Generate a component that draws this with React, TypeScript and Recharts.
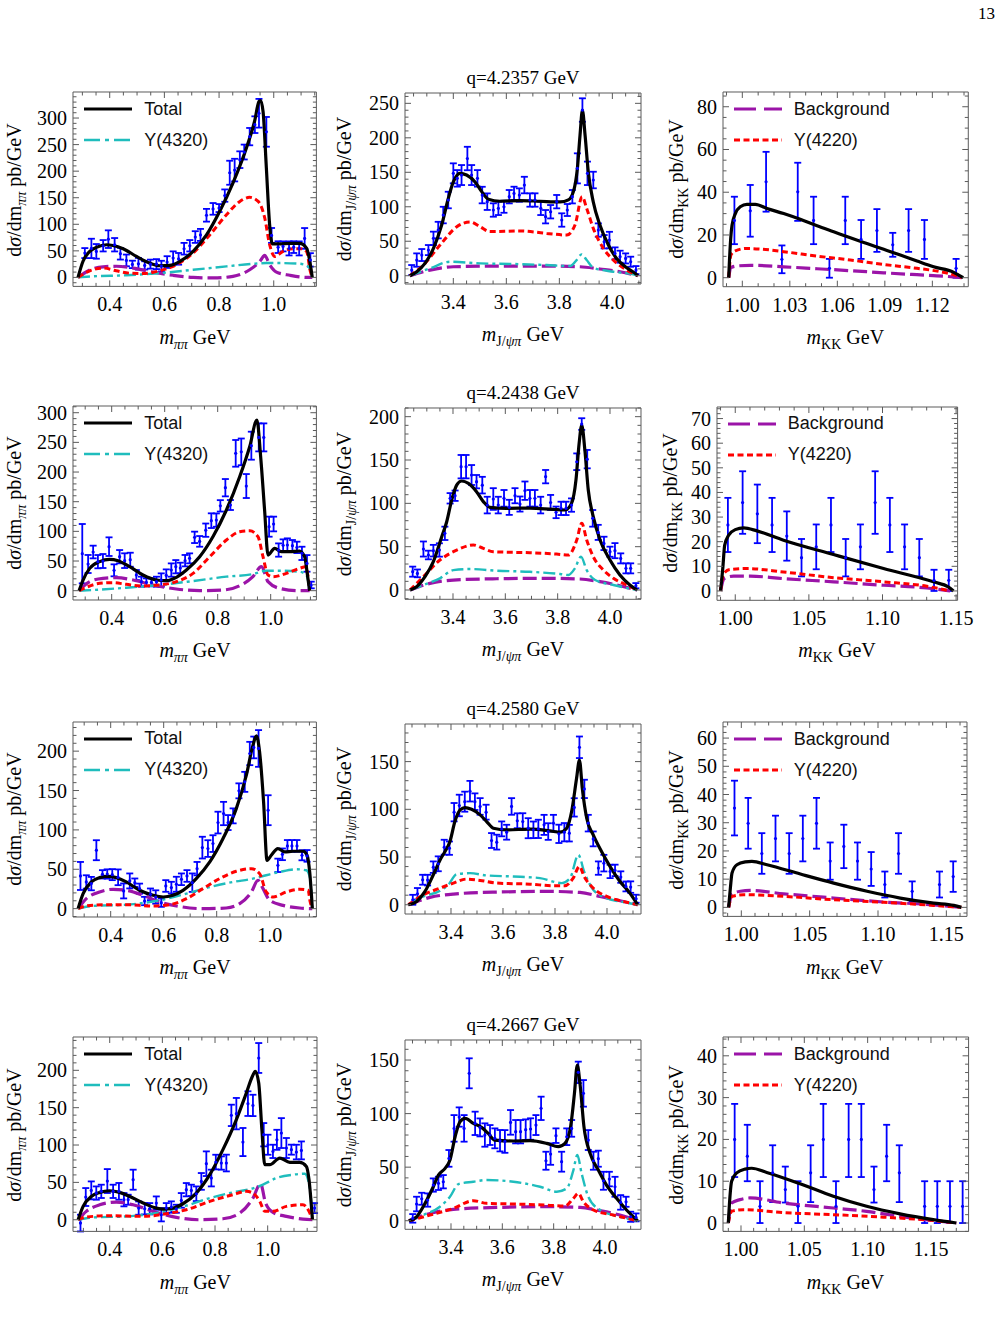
import React from 'react';
import { ComposedChart, Line, Scatter, ErrorBar, XAxis, YAxis } from 'recharts';

type XY = [number, number];
type Meas = [number, number, number] | [number, number, number, number];

// collision energies of the four rows (GeV)
const energies = ['4.2357', '4.2438', '4.2580', '4.2667'];

// tick labels
const pipiTicks = [0.4, 0.6, 0.8, 1.0];
const jpsipiTicks = [3.4, 3.6, 3.8, 4.0];
const kkTicksRow1 = [1.0, 1.03, 1.06, 1.09, 1.12];
const kkTicks = [1.0, 1.05, 1.1, 1.15];
const yTicks300 = [0, 50, 100, 150, 200, 250, 300];
const yTicks250 = [0, 50, 100, 150, 200, 250];
const yTicks200 = [0, 50, 100, 150, 200];
const yTicks150 = [0, 50, 100, 150];
const kkY80 = [0, 20, 40, 60, 80];
const kkY70 = [0, 10, 20, 30, 40, 50, 60, 70];
const kkY60 = [0, 10, 20, 30, 40, 50, 60];
const kkY40 = [0, 10, 20, 30, 40];

// ---------- row 1 : q = 4.2357 GeV ----------
const pipiTotal1: XY[] = [[0.284,0],[0.302,30],[0.327,49],[0.351,56.5],[0.388,61.5],[0.412,60],[0.449,54],[0.498,39.5],[0.546,27],[0.583,22],[0.620,22.6],[0.656,30],[0.705,49],[0.754,80],[0.802,124],[0.851,178],[0.900,243.6],[0.930,294],[0.946,331],[0.952,333],[0.961,312],[0.973,206],[0.985,99],[0.995,63],[1.022,63],[1.059,64],[1.095,64],[1.120,55],[1.134,24],[1.141,0]];
const pipiY4220_1: XY[] = [[0.284,0],[0.327,12.5],[0.376,17.6],[0.424,12.5],[0.473,8],[0.522,7.5],[0.583,12.5],[0.644,24],[0.705,46],[0.766,80],[0.827,118],[0.876,143],[0.912,150.7],[0.943,143],[0.967,112],[0.985,61.5],[1.004,39.5],[1.034,49],[1.071,54],[1.101,54],[1.120,49],[1.134,11],[1.141,0]];
const pipiY4320_1: XY[] = [[0.284,0],[0.339,2],[0.461,4],[0.583,8],[0.705,14.4],[0.827,20.7],[0.924,25.7],[0.973,27],[1.022,27],[1.095,25.7],[1.126,20.7],[1.141,0]];
const pipiBkg1: XY[] = [[0.284,0],[0.327,14],[0.376,20],[0.424,21],[0.485,17.6],[0.559,10],[0.632,4],[0.705,0],[0.778,-1],[0.851,2],[0.912,14.4],[0.949,30],[0.967,41.4],[0.985,24],[1.010,10],[1.059,4],[1.120,0],[1.141,0]];
const pipiData1: Meas[] = [[0.309,45.8,9.4],[0.333,54.6,18.2],[0.351,49,13.8],[0.376,59.6,10.7],[0.395,72,16.6],[0.418,61.5,12.6],[0.439,44.6,11],[0.461,32,11],[0.483,24.5,7],[0.505,25.7,11],[0.528,22.6,7.8],[0.549,25,8.5],[0.571,25,9.4],[0.589,21.3,10],[0.610,28.9,11],[0.632,36.4,12.6],[0.652,35,11],[0.672,54,11],[0.693,59.6,10.7],[0.713,76,11],[0.732,80,11.3],[0.754,117,12],[0.778,129,11],[0.800,130.5,7.5],[0.821,154,11.6],[0.839,197,22.6],[0.857,202,21.3],[0.876,221.6,15.7],[0.892,236,14],[0.912,265,16.3],[0.931,287.5,15.7],[0.946,309,27],[0.973,274,28],[0.992,79,14],[1.016,57,11],[1.034,58.4,9.4],[1.056,54.6,13.2],[1.073,57,11],[1.093,54.6,13.2],[1.113,73.4,19.5],[1.134,33,12.6]];

const jpsipiTotal1: XY[] = [[3.236,0],[3.262,5.8],[3.293,17.9],[3.325,39.7],[3.356,73.5],[3.381,112],[3.400,136],[3.425,148.5],[3.450,146],[3.482,136],[3.507,122],[3.532,111],[3.576,108],[3.652,109],[3.727,108],[3.803,107],[3.834,110],[3.853,122],[3.868,155.7],[3.878,204],[3.887,240],[3.897,204],[3.909,151],[3.928,107],[3.953,73.5],[3.985,44.5],[4.016,25],[4.054,11.6],[4.086,3.4],[4.096,0]];
const jpsipiY4220_1: XY[] = [[3.236,0],[3.287,15.5],[3.350,44.5],[3.413,71],[3.463,78],[3.501,71],[3.538,64],[3.652,65],[3.752,61.4],[3.828,59],[3.859,73.5],[3.886,114.6],[3.903,97.7],[3.928,68.7],[3.966,39.7],[4.004,22.7],[4.054,8.2],[4.096,0]];
const jpsipiY4320_1: XY[] = [[3.236,0],[3.312,10.6],[3.388,20.3],[3.501,17.9],[3.626,17],[3.752,15.5],[3.840,14],[3.865,22.7],[3.884,31],[3.903,22.7],[3.928,11.6],[4.004,5.8],[4.079,2],[4.096,0]];
const jpsipiBkg1: XY[] = [[3.236,0],[3.312,8.2],[3.400,13],[3.564,14],[3.752,14],[3.878,13],[3.953,9.7],[4.029,5.8],[4.096,0]];
const jpsipiData1: Meas[] = [[3.243,8.2,7.3],[3.262,22.7,9.7],[3.281,30,8.7],[3.306,37.2,7.3],[3.325,54.2,9.7],[3.343,66.2,12],[3.362,88,12],[3.381,109.8,12],[3.400,148.5,14.5],[3.415,141.2,12],[3.431,146,14.5],[3.453,170,17],[3.469,146,14.5],[3.491,141.2,12],[3.509,117,12],[3.528,107.4,12],[3.551,95.3,9.7],[3.570,97.7,9.7],[3.591,100,8.7],[3.611,114.6,9.7],[3.629,119.4,9.7],[3.649,117,9.7],[3.668,131.5,12],[3.689,109.8,9.7],[3.708,109.8,9.7],[3.730,97.7,9.7],[3.748,85.6,9.7],[3.767,92.8,9.7],[3.790,107.4,9.7],[3.809,80.8,9.7],[3.830,95.3,8.7],[3.849,114.6,9.7],[3.868,155.7,21.8],[3.887,240.3,17],[3.906,148.5,17],[3.928,138.8,12],[3.947,66.2,9.7],[3.969,49.3,9.7],[3.989,51.7,12],[4.010,32.4,8.7],[4.029,27.6,8.7],[4.050,25.1,7.3],[4.069,20.3,7.3],[4.089,8.2,5.8]];

const kkTotal1: XY[] = [[0.9914,0],[0.9924,15.3],[0.9935,24.6],[0.9956,30],[0.9987,33.2],[1.0029,34.3],[1.0082,34.3],[1.0156,32.4],[1.0261,30],[1.0366,27.3],[1.0472,24.3],[1.0577,21.5],[1.0682,18.7],[1.0787,16],[1.0893,13.3],[1.0998,10.6],[1.1103,7.8],[1.1208,5.1],[1.1335,2.5],[1.1366,1.2],[1.1395,0]];
const kkY4220_1: XY[] = [[0.9914,0],[0.9928,10.6],[0.9956,12.6],[1.0029,13.7],[1.0114,13.4],[1.0261,12.2],[1.0472,10.1],[1.0682,8.3],[1.0893,6.2],[1.1103,4.4],[1.1251,2.8],[1.1356,0.9],[1.1387,0]];
const kkBkg1: XY[] = [[0.9914,0],[0.9928,4.7],[0.9966,5.5],[1.0051,5.8],[1.0261,5.1],[1.0472,4.2],[1.0682,3.3],[1.0893,2.3],[1.1103,1.4],[1.1293,0.6],[1.1387,0]];
const kkData1: Meas[] = [[0.995,26.8,11.1],[1.005,31.3,12.1],[1.015,44.9,14],[1.025,8.6,6.5],[1.035,40.2,13.6],[1.045,26.8,11.1],[1.055,4.4,4.4],[1.065,26.8,11.1],[1.075,17.9,9.1],[1.085,22.1,10],[1.095,15.4,5.6],[1.105,22.1,10],[1.115,17.9,9.1],[1.135,4.4,4.4]];

// ---------- row 2 : q = 4.2438 GeV ----------
const pipiTotal2: XY[] = [[0.277,0],[0.292,18],[0.317,37.6],[0.355,49],[0.392,52.8],[0.424,50.6],[0.468,40.4],[0.518,26.4],[0.569,18],[0.606,16.9],[0.644,22.5],[0.682,34.8],[0.732,57.3],[0.782,91],[0.833,136],[0.883,192],[0.921,243],[0.948,287.6],[0.962,227],[0.977,136],[0.990,60],[1.015,71.3],[1.040,65.7],[1.072,65.7],[1.109,66.9],[1.128,57.3],[1.138,29],[1.147,0]];
const pipiY4220_2: XY[] = [[0.277,0],[0.304,5.6],[0.355,12.4],[0.405,13.5],[0.455,10.7],[0.518,7.9],[0.581,9.6],[0.644,15.2],[0.707,29.2],[0.770,57.3],[0.833,85.4],[0.883,99.4],[0.921,101],[0.952,91],[0.971,57.3],[0.990,26.4],[1.009,23.6],[1.059,29.2],[1.109,37.6],[1.132,40.4],[1.141,23.6],[1.147,0]];
const pipiY4320_2: XY[] = [[0.277,0],[0.330,1.1],[0.455,5],[0.581,9.6],[0.707,16.3],[0.833,23.6],[0.933,28],[0.984,33.7],[1.034,33.7],[1.109,32],[1.135,26.4],[1.147,0]];
const pipiBkg2: XY[] = [[0.277,0],[0.317,15.2],[0.367,20.8],[0.418,21.9],[0.481,18],[0.556,9.6],[0.644,2.8],[0.732,0],[0.820,1.1],[0.883,8.4],[0.933,23.6],[0.965,40.4],[0.990,15.2],[1.034,3.9],[1.109,0],[1.147,0]];
const pipiData2: Meas[] = [[0.289,62.4,50],[0.311,45,15.2],[0.330,65.2,10.7],[0.348,48.9,11.2],[0.367,50,11.8],[0.390,74.2,15.7],[0.409,34.3,10.1],[0.430,57.3,11.2],[0.449,50.6,12.4],[0.470,52.2,11.8],[0.493,26.4,8.4],[0.512,15.2,8.4],[0.531,14,6.7],[0.550,14,6.7],[0.569,15.2,8.4],[0.587,18,11.2],[0.606,25.8,10.1],[0.625,34.8,11.2],[0.642,40.4,11.2],[0.659,38.2,9],[0.677,50.6,9.6],[0.694,54.5,8.4],[0.713,89.9,9.6],[0.732,83.1,9],[0.755,102,11.2],[0.776,118,12.4],[0.795,119,11.2],[0.810,143,9.6],[0.829,173.6,14.6],[0.848,144.4,8.4],[0.868,231.5,22.5],[0.889,234,22.5],[0.908,176.4,20.2],[0.927,244.4,23.6],[0.955,258.4,23.6],[0.974,258.4,23.6],[0.994,107.9,16.9],[1.011,112.4,12.4],[1.030,68.5,11.2],[1.047,76.4,10.1],[1.063,77,11.2],[1.082,75.8,9.6],[1.099,73,9.6],[1.118,62.9,11.2],[1.137,46,14],[1.153,9.6,5.6]];

const jpsipiTotal2: XY[] = [[3.236,0],[3.261,3.8],[3.293,15.4],[3.325,32.7],[3.357,61.5],[3.376,78.8],[3.395,103.8],[3.414,121],[3.433,125.8],[3.459,123],[3.490,113.5],[3.516,102],[3.541,95.4],[3.605,94.2],[3.694,94.6],[3.783,93],[3.828,92.3],[3.853,100],[3.870,127],[3.882,169],[3.892,190.4],[3.904,161.5],[3.917,115.4],[3.936,84.6],[3.962,57.7],[4.000,34.6],[4.038,17.3],[4.076,5.8],[4.104,0]];
const jpsipiY4220_2: XY[] = [[3.236,0],[3.287,15.4],[3.350,34.6],[3.414,46],[3.478,52],[3.516,48],[3.554,44.2],[3.694,43],[3.796,41.5],[3.841,40.4],[3.873,57.7],[3.892,77],[3.911,57.7],[3.936,38.5],[3.975,23],[4.013,13.5],[4.064,5.8],[4.104,0]];
const jpsipiY4320_2: XY[] = [[3.236,0],[3.287,5.8],[3.350,13.5],[3.401,23],[3.465,24.2],[3.567,22.3],[3.694,21],[3.809,18.5],[3.841,17.3],[3.866,25],[3.889,38.5],[3.911,23],[3.943,11.5],[4.013,5.8],[4.089,0.8],[4.104,0]];
const jpsipiBkg2: XY[] = [[3.236,0],[3.312,7.7],[3.401,11.5],[3.567,13],[3.758,13.5],[3.885,12.7],[3.962,9.6],[4.038,5],[4.104,0]];
const jpsipiData2: Meas[] = [[3.246,21.2,5.8],[3.264,19.2,4.5],[3.287,47.3,8.7],[3.306,40.4,5],[3.325,45.4,6.7],[3.348,46.2,7.7],[3.369,65.4,7.7],[3.389,105.8,6],[3.408,108.8,6],[3.431,142.3,13.5],[3.450,142.3,13.5],[3.471,132.7,11.5],[3.490,125,7.7],[3.512,121,9.6],[3.531,98,9.6],[3.554,105,12.5],[3.573,98,9.6],[3.595,105.8,9.6],[3.615,95.4,8.7],[3.637,108.8,8.7],[3.656,99.2,8.7],[3.675,114.6,10.6],[3.694,105.8,9.6],[3.713,105.8,9.6],[3.735,98,9.6],[3.754,130.8,7.7],[3.773,101,8.7],[3.794,89.6,6.7],[3.813,94.2,7.7],[3.832,94.2,7.7],[3.853,98,7.7],[3.873,148,9.6],[3.892,191.5,6.7],[3.913,151,10.6],[3.934,82.7,9.6],[3.955,66.5,8.7],[3.977,53.8,7.7],[4.000,44.2,5.8],[4.019,45.4,8.7],[4.041,36.5,5.8],[4.061,25,5.8],[4.079,25,5.8],[4.099,5,3]];

const kkTotal2: XY[] = [[0.990,0],[0.9916,9.7],[0.9928,18.5],[0.9955,22.6],[1.000,24.9],[1.0057,25.6],[1.0147,24.4],[1.0328,20.6],[1.0667,14.8],[1.1007,9.1],[1.1346,3.7],[1.1448,1.6],[1.1482,0]];
const kkY4220_2: XY[] = [[0.990,0],[0.9921,7],[0.9966,8.7],[1.0079,9.1],[1.0328,7.7],[1.0667,5.4],[1.1007,3.7],[1.1301,1.9],[1.1459,0]];
const kkBkg2: XY[] = [[0.990,0],[0.9925,5],[0.9989,6],[1.0102,6],[1.0328,5],[1.0667,3.7],[1.1007,2.3],[1.1301,1.2],[1.1459,0]];
const kkData2: Meas[] = [[0.995,26.8,11],[1.005,35.9,12.7],[1.015,31.3,11.9],[1.025,26.8,11],[1.035,22.3,10],[1.045,13.5,7.6],[1.055,17.9,9.1],[1.065,26.8,11],[1.075,13.5,7.6],[1.085,17.9,9.1],[1.095,35.9,12.7],[1.105,26.8,11],[1.115,17.9,9.1],[1.125,13.5,7.6],[1.135,4.3,4.3],[1.145,4.3,4.3]];

// ---------- row 3 : q = 4.2580 GeV ----------
const pipiTotal3: XY[] = [[0.277,0],[0.296,19],[0.327,33.9],[0.358,39.4],[0.390,41.1],[0.421,39.4],[0.459,33.9],[0.509,23.3],[0.560,17],[0.598,14.8],[0.635,17],[0.673,23.3],[0.723,38.1],[0.774,59.3],[0.824,89],[0.874,127],[0.912,169.5],[0.937,207.6],[0.950,219.5],[0.962,199],[0.977,135.6],[0.990,61.4],[1.006,67.8],[1.031,76.3],[1.057,72],[1.088,72.9],[1.126,72.9],[1.141,67.8],[1.151,46.6],[1.161,0]];
const pipiY4220_3: XY[] = [[0.277,0],[0.308,3.4],[0.371,5],[0.459,5],[0.560,3.4],[0.623,5],[0.686,12.7],[0.748,25.4],[0.811,38.1],[0.874,47.5],[0.931,50.8],[0.962,44.5],[0.987,21.2],[1.013,14.8],[1.063,21.2],[1.113,24.6],[1.145,23.3],[1.153,8.5],[1.161,0]];
const pipiY4320_3: XY[] = [[0.277,0],[0.333,3.4],[0.459,5],[0.585,10.6],[0.686,19],[0.774,27.5],[0.862,33.9],[0.937,38.1],[0.987,42.4],[1.038,46.6],[1.101,50],[1.138,48.7],[1.153,38],[1.161,0]];
const pipiBkg3: XY[] = [[0.277,0],[0.308,12.7],[0.358,21.2],[0.409,24.6],[0.459,23.3],[0.522,17],[0.585,8.5],[0.648,3.4],[0.748,0],[0.836,0.8],[0.887,6.4],[0.931,21.2],[0.956,36],[0.975,25.4],[1.000,10.6],[1.050,4.2],[1.113,0.8],[1.161,0]];
const pipiData3: Meas[] = [[0.286,41.5,17.8],[0.308,33.9,8.5],[0.327,31.8,8.5],[0.346,74.2,12.7],[0.369,43.6,5.3],[0.387,44,5.9],[0.406,43.2,7],[0.428,39.8,10],[0.449,22.5,9.5],[0.472,35.2,9.5],[0.491,33,5.3],[0.509,25.4,6.4],[0.528,9.7,5.3],[0.550,18.2,7.4],[0.570,14.8,8.5],[0.591,7.6,5.3],[0.608,28.8,7.4],[0.629,26.7,7.4],[0.648,31,9.5],[0.667,37.3,7.4],[0.688,41.5,7.4],[0.708,33,11.7],[0.726,50.8,8.5],[0.746,77.5,13.8],[0.767,76.3,10.6],[0.786,82.6,10.6],[0.805,109.3,13.8],[0.826,120.8,14.8],[0.843,109.3,9.5],[0.862,117.8,9.5],[0.884,149.6,9.5],[0.906,161,12.7],[0.925,197,14.8],[0.940,204.7,13.8],[0.958,203.4,23.3],[0.994,125,19],[1.031,55,8.5],[1.048,69,7.4],[1.067,79.7,7.4],[1.084,79.7,7.4],[1.103,79.7,7.4],[1.122,67.8,6.4],[1.141,67,7.4]];

const jpsipiTotal3: XY[] = [[3.236,0],[3.268,3.5],[3.300,14],[3.332,31.4],[3.358,47],[3.377,55.8],[3.396,66.3],[3.415,87.2],[3.435,99.4],[3.454,101.8],[3.479,100],[3.512,94.2],[3.537,87.2],[3.563,80.2],[3.614,78.5],[3.704,79.2],[3.781,77.4],[3.819,76],[3.845,80.2],[3.864,97.7],[3.883,132.5],[3.894,151.7],[3.905,122],[3.922,90.7],[3.947,73.2],[3.979,55.8],[4.012,40],[4.050,24.4],[4.088,12.2],[4.118,0]];
const jpsipiY4220_3: XY[] = [[3.236,0],[3.294,10.5],[3.358,17.4],[3.409,22.7],[3.460,26.9],[3.512,25.5],[3.576,22.7],[3.704,21.6],[3.794,19.9],[3.838,19.9],[3.870,27.9],[3.894,40.1],[3.912,29.6],[3.947,17.4],[3.999,8.7],[4.063,3.5],[4.118,0]];
const jpsipiY4320_3: XY[] = [[3.236,0],[3.294,8.7],[3.358,14.6],[3.390,21],[3.422,32],[3.473,33.1],[3.537,30.7],[3.640,29.6],[3.742,27.9],[3.826,22.7],[3.858,27.9],[3.890,52.3],[3.912,34.9],[3.947,15.7],[3.999,7],[4.063,2.8],[4.118,0]];
const jpsipiBkg3: XY[] = [[3.236,0],[3.319,7.7],[3.409,11.2],[3.576,13.3],[3.768,14],[3.896,12.9],[3.973,8.7],[4.050,4.2],[4.118,0]];
const jpsipiData3: Meas[] = [[3.253,5.2,5.2],[3.271,11.5,6],[3.291,26.2,5.2],[3.310,25.8,5.6],[3.332,39.4,6],[3.351,42.9,7.8],[3.374,60.3,7.8],[3.394,59.3,7],[3.412,97,9.6],[3.432,104,11.3],[3.453,108,10.5],[3.473,119,10.8],[3.492,108,8.7],[3.512,103,8.7],[3.535,97,7.8],[3.556,67.3,7.8],[3.576,65.6,7.8],[3.595,79.5,7.8],[3.614,76,7.8],[3.633,103,8.7],[3.655,88,7.8],[3.676,87.2,8.7],[3.697,80.2,10.5],[3.717,78.5,8.7],[3.736,79.5,9.6],[3.758,83.7,10.5],[3.774,76.7,8.7],[3.794,85.5,8.7],[3.815,74.3,9.6],[3.836,76,9.6],[3.855,75,8.7],[3.874,102,9.6],[3.894,165,11.3],[3.913,121.4,9.6],[3.928,85.5,8.7],[3.947,69,7.8],[3.967,38.4,7],[3.988,43.6,8.7],[4.012,34.9,7],[4.031,36,6],[4.053,29,6],[4.073,19.2,5.2],[4.091,18.5,6],[4.112,6.3,4.2]];

const kkTotal3: XY[] = [[0.9907,0],[0.992,6.9],[0.9932,12.2],[0.9968,15.1],[1.0029,16.1],[1.0078,16.3],[1.0188,15.1],[1.0432,11.8],[1.0676,8.6],[1.092,5.7],[1.1163,3.3],[1.1407,1.5],[1.1554,0.7],[1.161,0]];
const kkY4220_3: XY[] = [[0.9907,0],[0.9932,3.9],[1.0017,4.5],[1.031,3.9],[1.0676,2.7],[1.1041,1.8],[1.1407,0.7],[1.161,0]];
const kkBkg3: XY[] = [[0.9907,0],[0.9932,4.7],[0.9993,5.7],[1.0066,6],[1.031,4.8],[1.0676,3.3],[1.1041,1.9],[1.1407,0.9],[1.161,0]];
const kkData3: Meas[] = [[0.995,35.2,9.7],[1.005,29.8,9],[1.015,19.1,7.2],[1.025,24.4,8.1],[1.035,19.1,7.2],[1.045,24.4,8.1],[1.055,29.8,9],[1.065,16.4,6.6],[1.075,21.6,7.7],[1.085,16.4,6.6],[1.095,13.6,6],[1.105,8.1,4.6],[1.115,19.1,7.2],[1.125,5.7,3.5],[1.145,8.1,4.6],[1.155,10.9,5.4]];

// ---------- row 4 : q = 4.2667 GeV ----------
const pipiTotal4: XY[] = [[0.280,0],[0.299,17.9],[0.330,31.2],[0.362,36.6],[0.400,38.8],[0.438,36.6],[0.476,31.2],[0.527,22.3],[0.577,15.6],[0.603,14.3],[0.641,15.6],[0.678,21.4],[0.729,35.7],[0.780,60.3],[0.830,93.8],[0.881,134],[0.919,169.6],[0.942,192],[0.953,198.7],[0.966,183],[0.978,120.5],[0.989,73.7],[1.008,73.7],[1.046,82.6],[1.084,76.8],[1.122,76.8],[1.147,71.4],[1.157,53.6],[1.170,0]];
const pipiY4220_4: XY[] = [[0.280,0],[0.311,3.6],[0.400,5.4],[0.527,4.5],[0.615,8],[0.691,13.4],[0.780,24.6],[0.868,33.5],[0.919,38],[0.944,35.7],[0.970,24.6],[0.989,11.2],[1.020,11.2],[1.071,17.9],[1.134,20],[1.157,11.2],[1.170,0]];
const pipiY4320_4: XY[] = [[0.280,0],[0.337,3.1],[0.463,4.5],[0.590,9.8],[0.691,18.8],[0.780,29],[0.868,36.6],[0.944,42],[0.982,47],[1.033,55.8],[1.096,60.3],[1.141,61.6],[1.159,44.6],[1.170,0]];
const pipiBkg4: XY[] = [[0.280,0],[0.311,11.2],[0.362,20],[0.425,23.7],[0.489,20],[0.565,11.2],[0.653,3.1],[0.742,0],[0.830,1.3],[0.894,8.9],[0.944,29],[0.973,48.2],[0.992,22.3],[1.020,9.8],[1.071,4.5],[1.134,0.9],[1.170,0]];
const pipiData4: Meas[] = [[0.289,-4.5,11.2],[0.309,30.4,12],[0.330,39.3,12],[0.349,35.7,8.9],[0.368,38,8.9],[0.391,51.8,16],[0.413,38,8.9],[0.435,38,11.2],[0.454,26.8,8.9],[0.470,26.8,6.7],[0.489,53.6,13.4],[0.510,15.6,8.9],[0.533,14.7,7.6],[0.552,14.7,7.6],[0.577,22.3,8.9],[0.596,6.7,8.9],[0.615,15.6,6.7],[0.634,17,7.6],[0.653,14.7,5.4],[0.672,25.9,9.8],[0.691,40.2,8.9],[0.710,39.3,7.6],[0.729,34.8,9.8],[0.748,51.3,11.2],[0.767,75,16.5],[0.786,55.8,11.2],[0.803,77.2,9.8],[0.824,75.9,8.9],[0.843,75.9,11.2],[0.862,139.7,14.3],[0.881,142,21],[0.906,104,18.8],[0.925,155.4,16.5],[0.944,153,14.3],[0.966,216.5,20],[0.985,113.8,15.6],[1.001,100.4,13.4],[1.020,91.5,8.9],[1.035,107,13.4],[1.052,116,20],[1.071,96,13.4],[1.090,93.8,6.7],[1.109,90.6,9.8],[1.128,92.8,12],[1.178,15.6,6.7]];

const jpsipiTotal4: XY[] = [[3.236,0],[3.266,3.7],[3.299,16.2],[3.331,31.7],[3.351,42.6],[3.377,48.9],[3.396,56.6],[3.416,78.4],[3.435,92.4],[3.455,95.5],[3.487,90.9],[3.519,87.1],[3.545,81.5],[3.571,75.3],[3.643,74.4],[3.708,74.7],[3.773,72.2],[3.818,69.1],[3.844,72.2],[3.866,87.8],[3.881,118.9],[3.892,145.3],[3.903,127.1],[3.918,87.8],[3.942,62.9],[3.974,47.3],[4.006,33.3],[4.045,20.9],[4.084,10],[4.127,0]];
const jpsipiY4220_4: XY[] = [[3.236,0],[3.318,5.3],[3.409,11.5],[3.487,18.7],[3.539,16.2],[3.643,15.6],[3.773,14.6],[3.844,13.7],[3.877,20.9],[3.896,25.5],[3.916,17.7],[3.955,10],[4.032,5.3],[4.127,0]];
const jpsipiY4320_4: XY[] = [[3.236,0],[3.292,5.3],[3.357,13.1],[3.396,22.4],[3.429,34.2],[3.487,36.4],[3.539,38],[3.643,36.4],[3.747,31.7],[3.812,27.1],[3.851,30.2],[3.877,47.3],[3.892,61.3],[3.909,44.2],[3.935,22.4],[3.981,10],[4.058,3.7],[4.127,0]];
const jpsipiBkg4: XY[] = [[3.236,0],[3.318,6.8],[3.409,10.6],[3.578,12.4],[3.773,13.1],[3.903,12.4],[3.981,9.3],[4.058,5.3],[4.127,0]];
const jpsipiData4: Meas[] = [[3.251,2.2,4],[3.266,15.6,6.8],[3.286,20.5,5.6],[3.309,19.3,6.2],[3.331,33.3,6.2],[3.351,34.9,6.2],[3.370,36.4,6.2],[3.392,58.2,7.8],[3.412,86.2,12.4],[3.432,96.8,9],[3.451,86.2,12.4],[3.471,137.6,14],[3.494,90.9,10.9],[3.513,87.1,8.4],[3.532,80,10.9],[3.552,80,9.3],[3.571,76.9,9.3],[3.591,74.7,10],[3.610,74,10.6],[3.632,91.8,11.5],[3.652,83.1,10.9],[3.671,83.1,10.9],[3.691,85,9.6],[3.710,85.6,10],[3.731,89.3,9.3],[3.751,104.9,10.9],[3.770,56,8.4],[3.788,62.2,10],[3.809,79.4,6.8],[3.831,55.1,9.3],[3.851,78.4,7.8],[3.870,86.2,7.8],[3.896,138.5,10],[3.916,118.9,12.4],[3.935,75.3,9.3],[3.955,56,8.4],[3.974,57.9,7.5],[3.994,37.3,8.4],[4.017,38.9,6.8],[4.039,31.7,9.3],[4.061,17.1,6.8],[4.082,17.7,4.7],[4.100,3.7,4.7],[4.121,3.1,3.7]];

const kkTotal4: XY[] = [[0.990,0],[0.9913,6.4],[0.9926,10],[0.9966,12],[1.0032,12.9],[1.0084,13.1],[1.0203,12.1],[1.0466,9.4],[1.0729,6.4],[1.0992,4],[1.1255,2.2],[1.1518,0.8],[1.170,0]];
const kkY4220_4: XY[] = [[0.990,0],[0.9926,2.8],[1.0018,3.2],[1.0334,2.5],[1.0729,2],[1.1124,1.4],[1.1518,0.6],[1.170,0]];
const kkBkg4: XY[] = [[0.990,0],[0.9926,4.8],[0.9992,5.6],[1.0071,6],[1.0334,4.8],[1.0729,3.6],[1.0992,2.8],[1.1255,1.6],[1.1518,0.6],[1.170,0]];
const kkData4: Meas[] = [[0.995,20,9,8.5],[1.005,16,6,7.5],[1.015,4,4,6],[1.025,12,7,6.6],[1.035,8,3.1,5.5],[1.045,4,4,6],[1.055,12,7,6.6],[1.065,20,9,8.5],[1.075,4,4,6],[1.085,20,9,8.5],[1.095,20,9,8.5],[1.105,8,3.1,5.5],[1.115,16,6,7.5],[1.125,12,7,6.6],[1.145,4,4,6],[1.155,4,4,6],[1.165,4,4,6],[1.175,4,4,6]];

// ---------- drawing ----------
const FRAME = '#5a5a5a';
const SERIF = '"Liberation Serif", "Times New Roman", serif';
const SANS = '"Liberation Sans", Arial, sans-serif';
const ML = 70, MR = 34, MT = 10, MB = 40;

type CurveKey = 'bkg' | 'y4320' | 'y4220' | 'total';
const curveStyle: Record<CurveKey, { stroke: string; width: number; dash?: string; legendDash?: string }> = {
  bkg: { stroke: '#9b14a8', width: 3.2, dash: '14 5', legendDash: '22 8' },
  y4320: { stroke: '#1fbdbd', width: 2.4, dash: '12 4 3 4', legendDash: '16 5 4 5' },
  y4220: { stroke: '#ff0000', width: 3, dash: '6 3.5', legendDash: '6 3.5' },
  total: { stroke: '#000000', width: 3.2 },
};

type Frame = { L: number; T: number; R: number; B: number };
type PanelCfg = {
  kind: 'pipi' | 'jpsipi' | 'kk';
  frame: Frame;
  xDomain: [number, number];
  yDomain: [number, number];
  xTicks: number[];
  xDigits: number;
  xMinor: number;
  yTicks: number[];
  yMinor: number;
  curves: Partial<Record<CurveKey, XY[]>>;
  meas: Meas[];
};

const gridTicks = (lo: number, hi: number, step: number) => {
  const out: number[] = [];
  for (let k = Math.ceil(lo / step - 1e-9); k * step <= hi + 1e-9; k++) out.push(+(k * step).toFixed(6));
  return out;
};

const toLine = (pts: XY[]) => pts.map(([x, y]) => ({ x, y }));
const toMeas = (pts: Meas[]) =>
  pts.map((p) => ({ x: p[0], y: p[1], e: p.length === 4 ? [p[2], p[3]] : p[2] }));

const labelStyle = { fontFamily: SERIF, fontSize: 20 };

// inward-pointing frame ticks, labels only on the bottom and left sides
const frameTick = (side: 'bottom' | 'top' | 'left' | 'right', majors: number[], digits: number, labeled: boolean) =>
  (props: any) => {
    const { x, y, payload } = props;
    const v: number = payload.value;
    const major = majors.some((m) => Math.abs(m - v) < 1e-6);
    const len = major ? 6 : 3.5;
    let x2 = x;
    let y2 = y;
    if (side === 'bottom') y2 = y - len;
    else if (side === 'top') y2 = y + len;
    else if (side === 'left') x2 = x + len;
    else x2 = x - len;
    return (
      <g>
        <line x1={x} y1={y} x2={x2} y2={y2} stroke={FRAME} strokeWidth={1} />
        {labeled && major && side === 'bottom' && (
          <text x={x} y={y + 18} dy="0.35em" textAnchor="middle" style={labelStyle} fill="#000">
            {v.toFixed(digits)}
          </text>
        )}
        {labeled && major && side === 'left' && (
          <text x={x - 6} y={y} dy="0.35em" textAnchor="end" style={labelStyle} fill="#000">
            {v.toFixed(digits)}
          </text>
        )}
      </g>
    );
  };

const dot = (p: any) => <circle cx={p.cx} cy={p.cy} r={1.6} fill="#0000ff" />;

function Panel({ cfg }: { cfg: PanelCfg }) {
  const { frame, xDomain, yDomain } = cfg;
  const w = frame.R - frame.L + ML + MR;
  const h = frame.B - frame.T + MT + MB;
  const xAll = gridTicks(xDomain[0], xDomain[1], cfg.xMinor);
  const yAll = gridTicks(yDomain[0], yDomain[1], cfg.yMinor);
  const axisLine = { stroke: FRAME, strokeWidth: 1 };
  const order: CurveKey[] = ['bkg', 'y4320', 'y4220', 'total'];
  return (
    <div style={{ position: 'absolute', left: frame.L - ML, top: frame.T - MT }}>
      <ComposedChart width={w} height={h} margin={{ left: ML - 1, right: MR - 1, top: MT - 1, bottom: MB - 1 }}>
        <XAxis xAxisId="b" type="number" dataKey="x" domain={xDomain} allowDataOverflow ticks={xAll} interval={0}
          height={1} tickSize={0} tickMargin={0} tickLine={false} axisLine={axisLine}
          tick={frameTick('bottom', cfg.xTicks, cfg.xDigits, true)} />
        <XAxis xAxisId="t" orientation="top" type="number" dataKey="x" domain={xDomain} allowDataOverflow ticks={xAll}
          interval={0} height={1} tickSize={0} tickMargin={0} tickLine={false} axisLine={axisLine}
          tick={frameTick('top', cfg.xTicks, 0, false)} />
        <YAxis yAxisId="l" type="number" dataKey="y" domain={yDomain} allowDataOverflow ticks={yAll} interval={0}
          width={1} tickSize={0} tickMargin={0} tickLine={false} axisLine={axisLine}
          tick={frameTick('left', cfg.yTicks, 0, true)} />
        <YAxis yAxisId="r" orientation="right" type="number" dataKey="y" domain={yDomain} allowDataOverflow ticks={yAll}
          interval={0} width={1} tickSize={0} tickMargin={0} tickLine={false} axisLine={axisLine}
          tick={frameTick('right', cfg.yTicks, 0, false)} />
        <Scatter xAxisId="b" yAxisId="l" data={toMeas(cfg.meas)} dataKey="y" fill="#0000ff" shape={dot}
          isAnimationActive={false}>
          <ErrorBar dataKey="e" direction="y" width={3.5} stroke="#0000ff" strokeWidth={1.8} isAnimationActive={false} />
        </Scatter>
        {order.filter((k) => cfg.curves[k]).map((k) => (
          <Line key={k} xAxisId="b" yAxisId="l" data={toLine(cfg.curves[k] as XY[])} dataKey="y" type="monotone"
            dot={false} activeDot={false} stroke={curveStyle[k].stroke} strokeWidth={curveStyle[k].width}
            strokeDasharray={curveStyle[k].dash} isAnimationActive={false} />
        ))}
      </ComposedChart>
    </div>
  );
}

const Sub = ({ children }: { children: React.ReactNode }) => (
  <span style={{ fontSize: 14, position: 'relative', top: 5 }}>{children}</span>
);

const yTitle = {
  pipi: <>d<i>σ</i>/dm<Sub><i>ππ</i></Sub> pb/GeV</>,
  jpsipi: <>d<i>σ</i>/dm<Sub>J/<i>ψπ</i></Sub> pb/GeV</>,
  kk: <>d<i>σ</i>/dm<Sub>KK</Sub> pb/GeV</>,
};
const xTitle = {
  pipi: <><i>m</i><Sub><i>ππ</i></Sub> GeV</>,
  jpsipi: <><i>m</i><Sub>J/<i>ψπ</i></Sub> GeV</>,
  kk: <><i>m</i><Sub>KK</Sub> GeV</>,
};
const legendItems: Record<string, { key: CurveKey; label: string }[]> = {
  pipi: [{ key: 'total', label: 'Total' }, { key: 'y4320', label: 'Y(4320)' }],
  jpsipi: [],
  kk: [{ key: 'bkg', label: 'Background' }, { key: 'y4220', label: 'Y(4220)' }],
};

function Legend({ cfg }: { cfg: PanelCfg }) {
  return (
    <>
      {legendItems[cfg.kind].map((it, i) => {
        const s = curveStyle[it.key];
        return (
          <div key={it.key} style={{ position: 'absolute', left: cfg.frame.L + 11, top: cfg.frame.T + 17 + i * 31 - 12,
            height: 24, display: 'flex', alignItems: 'center', whiteSpace: 'nowrap' }}>
            <svg width={48} height={8} style={{ display: 'block' }}>
              <line x1={0} y1={4} x2={48} y2={4} stroke={s.stroke} strokeWidth={s.width} strokeDasharray={s.legendDash} />
            </svg>
            <span style={{ marginLeft: 12, fontFamily: SANS, fontSize: 18, color: '#111' }}>{it.label}</span>
          </div>
        );
      })}
    </>
  );
}

const pipiRow = (frame: Frame, xDomain: [number, number], yDomain: [number, number], yTicks: number[],
  curves: PanelCfg['curves'], meas: Meas[]): PanelCfg =>
  ({ kind: 'pipi', frame, xDomain, yDomain, xTicks: pipiTicks, xDigits: 1, xMinor: 0.05, yTicks, yMinor: 10, curves, meas });
const jpsipiRow = (frame: Frame, xDomain: [number, number], yDomain: [number, number], yTicks: number[],
  curves: PanelCfg['curves'], meas: Meas[]): PanelCfg =>
  ({ kind: 'jpsipi', frame, xDomain, yDomain, xTicks: jpsipiTicks, xDigits: 1, xMinor: 0.05, yTicks, yMinor: 10, curves, meas });
const kkRow = (frame: Frame, xDomain: [number, number], yDomain: [number, number], xTicks: number[], yTicks: number[],
  yMinor: number, curves: PanelCfg['curves'], meas: Meas[]): PanelCfg =>
  ({ kind: 'kk', frame, xDomain, yDomain, xTicks, xDigits: 2, xMinor: 0.01, yTicks, yMinor, curves, meas });

const panels: PanelCfg[] = [
  pipiRow({ L: 73.3, T: 92.3, R: 316.7, B: 286.7 }, [0.2657, 1.156], [-16.9, 349], yTicks300,
    { bkg: pipiBkg1, y4320: pipiY4320_1, y4220: pipiY4220_1, total: pipiTotal1 }, pipiData1),
  jpsipiRow({ L: 405, T: 93, R: 641, B: 284 }, [3.2177, 4.108], [-12, 265], yTicks250,
    { bkg: jpsipiBkg1, y4320: jpsipiY4320_1, y4220: jpsipiY4220_1, total: jpsipiTotal1 }, jpsipiData1),
  kkRow({ L: 722.7, T: 92, R: 968, B: 286.7 }, [0.9878, 1.1427], [-4.2, 86.9], kkTicksRow1, kkY80, 5,
    { bkg: kkBkg1, y4220: kkY4220_1, total: kkTotal1 }, kkData1),

  pipiRow({ L: 73.3, T: 406, R: 316.7, B: 600 }, [0.254, 1.1725], [-15.7, 311.3], yTicks300,
    { bkg: pipiBkg2, y4320: pipiY4320_2, y4220: pipiY4220_2, total: pipiTotal2 }, pipiData2),
  jpsipiRow({ L: 405, T: 408, R: 641, B: 599.3 }, [3.2166, 4.1185], [-10.7, 210], yTicks200,
    { bkg: jpsipiBkg2, y4320: jpsipiY4320_2, y4220: jpsipiY4220_2, total: jpsipiTotal2 }, jpsipiData2),
  kkRow({ L: 716.7, T: 406.7, R: 957.3, B: 600 }, [0.9876, 1.151], [-3.8, 74.7], kkTicks, kkY70, 2,
    { bkg: kkBkg2, y4220: kkY4220_2, total: kkTotal2 }, kkData2),

  pipiRow({ L: 73.3, T: 721.7, R: 316.7, B: 916.7 }, [0.2578, 1.1763], [-10.6, 237], yTicks200,
    { bkg: pipiBkg3, y4320: pipiY4320_3, y4220: pipiY4220_3, total: pipiTotal3 }, pipiData3),
  jpsipiRow({ L: 405, T: 724.3, R: 641, B: 914.3 }, [3.2231, 4.1308], [-9.7, 189.4], yTicks150,
    { bkg: jpsipiBkg3, y4320: jpsipiY4320_3, y4220: jpsipiY4220_3, total: jpsipiTotal3 }, jpsipiData3),
  kkRow({ L: 722.7, T: 722.3, R: 966.7, B: 916.7 }, [0.9866, 1.1651], [-3.2, 65.7], kkTicks, kkY60, 2,
    { bkg: kkBkg3, y4220: kkY4220_3, total: kkTotal3 }, kkData3),

  pipiRow({ L: 73.3, T: 1037.3, R: 317.3, B: 1231.7 }, [0.2606, 1.1873], [-15.6, 244.6], yTicks200,
    { bkg: pipiBkg4, y4320: pipiY4320_4, y4220: pipiY4220_4, total: pipiTotal4 }, pipiData4),
  jpsipiRow({ L: 405, T: 1040, R: 641, B: 1229.3 }, [3.2208, 4.1403], [-8, 168.7], yTicks150,
    { bkg: jpsipiBkg4, y4320: jpsipiY4320_4, y4220: jpsipiY4220_4, total: jpsipiTotal4 }, jpsipiData4),
  kkRow({ L: 722.7, T: 1037.3, R: 968.3, B: 1231.7 }, [0.9858, 1.1797], [-2, 44.5], kkTicks, kkY40, 2,
    { bkg: kkBkg4, y4220: kkY4220_4, total: kkTotal4 }, kkData4),
];

const yTitleX = (cfg: PanelCfg) => (cfg.kind === 'pipi' ? 15 : cfg.kind === 'jpsipi' ? 345 : cfg.frame.L - 46);

export default function App() {
  return (
    <div style={{ position: 'absolute', left: 0, top: 0, width: 1002, height: 1340, background: '#fff', fontFamily: SERIF }}>
      <div style={{ position: 'absolute', left: 978, top: 4, fontSize: 17 }}>13</div>
      {panels.map((cfg, i) => {
        const { frame } = cfg;
        const cx = (frame.L + frame.R) / 2;
        const cy = (frame.T + frame.B) / 2;
        return (
          <React.Fragment key={i}>
            <Panel cfg={cfg} />
            <Legend cfg={cfg} />
            <div style={{ position: 'absolute', left: yTitleX(cfg), top: cy, transform: 'translate(-50%, -50%) rotate(-90deg)',
              whiteSpace: 'nowrap', fontSize: 20, lineHeight: '22px' }}>
              {yTitle[cfg.kind]}
            </div>
            <div style={{ position: 'absolute', left: cx, top: frame.B + 51, transform: 'translate(-50%, -50%)',
              whiteSpace: 'nowrap', fontSize: 20, lineHeight: '22px' }}>
              {xTitle[cfg.kind]}
            </div>
            {cfg.kind === 'jpsipi' && (
              <div style={{ position: 'absolute', left: cx, top: frame.T - 15, transform: 'translate(-50%, -50%)',
                whiteSpace: 'nowrap', fontSize: 19, lineHeight: '22px' }}>
                q={energies[Math.floor(i / 3)]} GeV
              </div>
            )}
          </React.Fragment>
        );
      })}
    </div>
  );
}
